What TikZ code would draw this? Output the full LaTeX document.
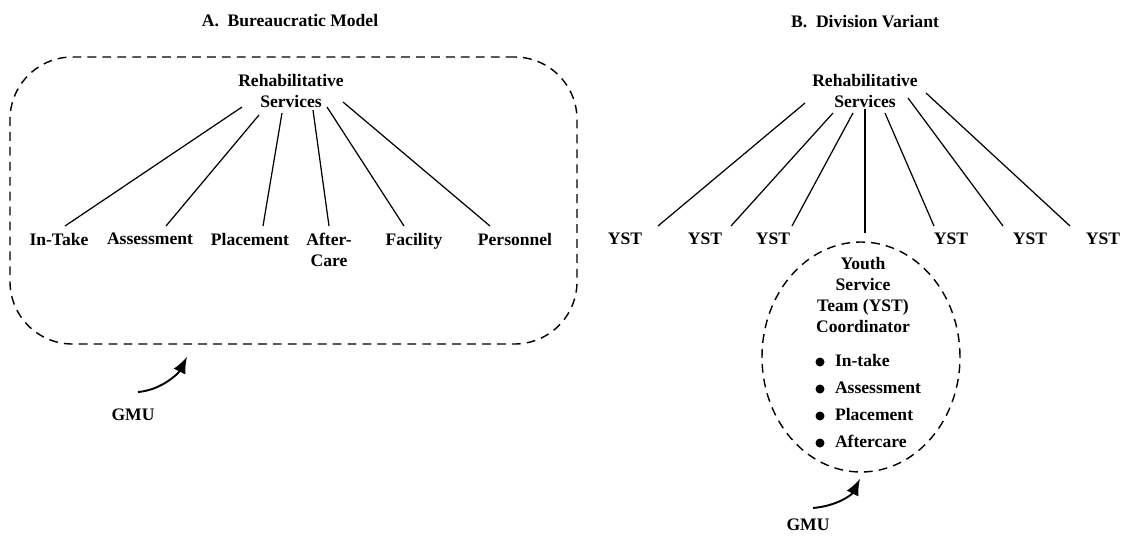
\documentclass[tikz,border=0pt]{standalone}
\usepackage{fontspec}
\setmainfont{Liberation Serif}
\usetikzlibrary{arrows.meta,shapes.geometric}

\tikzset{
	lab/.style={font=\bfseries, inner sep=1pt, outer sep=3pt},
	kid/.style={lab, anchor=north},
	task/.style={lab, anchor=west, text height=7pt, text depth=2pt},
	gmuline/.style={draw, line width=0.8pt, dash pattern=on 5pt off 3.5pt},
	gmuarrow/.style={line width=1.1pt, -{Latex[length=3.3mm,width=2.6mm]}}
}

\begin{document}
\begin{tikzpicture}[x=0.2mm,y=-0.2mm,line width=0.7pt]
	\useasboundingbox (0,0) rectangle (1128,543);

	% A. bureaucratic model
	\node[lab] (titA) at (290,21) {A.\ \ Bureaucratic Model};
	\node[gmuline, rounded corners=12.5mm, minimum width=113.4mm, minimum height=57.4mm] (boxA) at (293.5,200.5) {};
	\node[lab, align=center] (rsA) at (291,91) {Rehabilitative\\Services};
	\foreach \n/\x/\t in {intake/59/In-Take, assess/150/Assessment, place/250/Placement, facil/414/Facility, pers/515/Personnel}{
		\node[kid] (\n) at (\x,226) {\t};
	}
	\node[kid, align=center] (after) at (329,226) {After-\\Care};
	\foreach \n/\sx/\sy/\ex in {intake/-49/16/6, assess/-32/24/16, place/-9/22/13, after/22/19/0, facil/36/16/-10, pers/52/11/-25}{
		\draw ([shift={(\sx,\sy)}]rsA.center) -- ([shift={(\ex,0)}]\n.north);
	}
	\node[lab] (gmuA) at (133,415) {GMU};
	\draw[gmuarrow] ([shift={(5,-23)}]gmuA.center) .. controls +(24,-2) and +(-8,16) .. ([shift={(-106.5,12)}]boxA.south);

	% B. division variant
	\node[lab] (titB) at (865,22) {B.\ \ Division Variant};
	\node[lab, align=center] (rsB) at (865,91) {Rehabilitative\\Services};
	\foreach \i/\x in {1/625, 2/705, 3/773, 4/951, 5/1030, 6/1103}{
		\node[kid] (yst\i) at (\x,226) {YST};
	}
	\foreach \i/\sx/\sy/\ex in {1/-60/12/33, 2/-32/22/26, 3/-12/22/19, 4/20/22/-17, 5/43/7/-27, 6/61/2/-33}{
		\draw ([shift={(\sx,\sy)}]rsB.center) -- ([shift={(\ex,0)}]yst\i.north);
	}
	\node[gmuline, ellipse, minimum width=39.6mm, minimum height=46mm] (team) at (861,357) {};
	\draw ([shift={(0,18)}]rsB.center) -- ([shift={(4,-8)}]team.north);
	\node[lab, align=center] (coord) at (863,295) {Youth\\Service\\Team (YST)\\Coordinator};
	\foreach \t [count=\i] in {In-take, Assessment, Placement, Aftercare}{
		\node[task] (task\i) at (828,335+27*\i) {\t};
		\fill ([shift={(-8,0)}]task\i.west) circle (0.9mm);
	}
	\node[lab] (gmuB) at (808,525) {GMU};
	\draw[gmuarrow] ([shift={(5,-17)}]gmuB.center) .. controls +(24,-2) and +(-8,16) .. ([shift={(-1,6)}]team.south);
\end{tikzpicture}
\end{document}
